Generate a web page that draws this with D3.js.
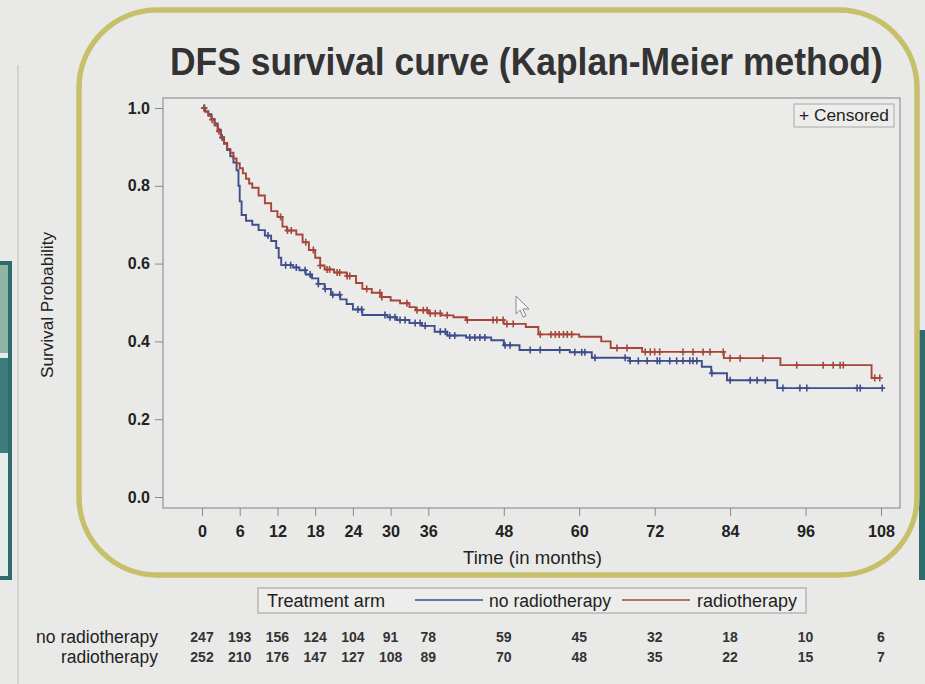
<!DOCTYPE html>
<html>
<head>
<meta charset="utf-8">
<script src="https://cdn.jsdelivr.net/npm/d3@7"></script>
<style>
  html, body { margin: 0; padding: 0; background: #e9eae8; }
  svg { display: block; font-family: "Liberation Sans", Arial, sans-serif; }
</style>
</head>
<body>
<svg id="chart" width="925" height="684"></svg>
<script>
// ---- data ----
const tickMonths = [0, 6, 12, 18, 24, 30, 36, 48, 60, 72, 84, 96, 108];
const probTicks = [0, 0.2, 0.4, 0.6, 0.8, 1.0];
const groups = ["no radiotherapy", "radiotherapy"];
const atRiskNoRT = [247, 193, 156, 124, 104, 91, 78, 59, 45, 32, 18, 10, 6];
const atRiskRT = [252, 210, 176, 147, 127, 108, 89, 70, 48, 35, 22, 15, 7];

// Kaplan-Meier steps: [month, survival after the event]
const stepsNoRT = [
  [0, 1.0], [0.5, 0.992], [1, 0.984], [1.5, 0.972], [2, 0.96], [2.5, 0.944],
  [3, 0.924], [3.5, 0.908], [4, 0.892], [4.5, 0.876], [5, 0.86], [5.5, 0.84],
  [5.8, 0.80], [6.0, 0.76], [6.3, 0.725], [7, 0.71], [8, 0.70], [9, 0.686],
  [10, 0.672], [11, 0.658], [11.8, 0.64], [12.2, 0.615], [12.6, 0.596],
  [14.5, 0.59], [15.5, 0.583], [16.5, 0.572], [17.5, 0.562], [18.5, 0.548],
  [19.5, 0.535], [20.5, 0.52], [22, 0.508], [23, 0.496], [24, 0.482],
  [25.5, 0.468], [29.5, 0.462], [31, 0.455], [33, 0.447], [35, 0.44],
  [37, 0.425], [39, 0.415], [42, 0.41], [46, 0.403], [48, 0.39], [50.5, 0.378],
  [58.5, 0.372], [62, 0.358], [68, 0.35], [79.5, 0.335], [81, 0.318],
  [83.5, 0.30], [91.5, 0.28]
];
const stepsRT = [
  [0, 1.0], [0.5, 0.99], [1, 0.98], [1.5, 0.97], [2, 0.955], [2.5, 0.94],
  [3, 0.925], [3.5, 0.91], [4, 0.895], [4.5, 0.885], [5, 0.87], [5.5, 0.858],
  [6, 0.845], [6.5, 0.832], [7, 0.818], [7.5, 0.806], [8, 0.795], [9, 0.775],
  [10, 0.755], [11, 0.735], [12, 0.72], [12.8, 0.695], [13.5, 0.685],
  [15, 0.675], [16, 0.655], [17, 0.635], [18, 0.615], [18.8, 0.595],
  [19.5, 0.585], [21, 0.577], [23, 0.568], [24.5, 0.55], [25.5, 0.535],
  [27, 0.525], [28.5, 0.514], [30, 0.505], [31.5, 0.498], [33, 0.488],
  [34, 0.48], [36, 0.472], [38, 0.467], [40, 0.462], [42, 0.455], [48, 0.445],
  [51.5, 0.437], [53.5, 0.418], [60, 0.412], [63.5, 0.40], [65, 0.383],
  [70, 0.373], [83, 0.357], [92, 0.339], [106.5, 0.306]
];

// censoring times (months)
const censorNoRT = [
  0.4, 3.2, 10.5, 13.3, 14.1, 15.0, 16.4, 17.2, 18.5, 19.6, 20.8, 21.9, 24.8,
  25.4, 29.1, 29.9, 30.7, 31.5, 32.3, 33.9, 34.7, 35.5, 37.9, 38.7, 39.4, 40.2,
  42.6, 43.4, 44.2, 45.0, 48.2, 49.0, 52.2, 53.8, 56.9, 59.3, 60.4, 60.9, 62.5,
  67.3, 68.1, 69.4, 70.8, 72.4, 72.8, 74.4, 75.5, 76.5, 77.6, 78.1, 78.7, 81.1,
  84.0, 87.2, 88.3, 89.6, 92.4, 95.1, 96.2, 104.2, 104.7, 108.2
];
const censorRT = [
  0.3, 1.6, 2.7, 12.5, 13.6, 14.2, 16.5, 17.7, 18.8, 19.9, 20.3, 21.5, 21.9,
  23.1, 23.5, 26.2, 28.3, 28.6, 32.6, 34.2, 35.2, 35.8, 36.3, 37.1, 37.9, 39.0,
  42.2, 46.3, 46.9, 47.9, 48.5, 49.5, 53.8, 55.5, 56.2, 56.8, 57.5, 58.1, 58.8,
  66.0, 67.6, 70.5, 71.3, 72.0, 72.8, 76.5, 78.1, 79.7, 80.8, 82.9, 84.0, 85.6,
  89.2, 94.6, 98.8, 100.4, 101.5, 102.0, 107.0, 107.8
];

const colorNoRT = "#3f4d8a";
const colorRT = "#a6463a";

// ---- layout ----
const svg = d3.select("#chart");
const frame = { left: 163, top: 98, right: 900, bottom: 508 };
const x = d3.scaleLinear().domain([0, 108]).range([202, 881]);
const y = d3.scaleLinear().domain([0, 1]).range([497, 108]);

// squeeze a label to a given width (narrow lettering)
function fit(sel, w) {
  return sel.attr("textLength", w).attr("lengthAdjust", "spacingAndGlyphs");
}

// page background pieces
svg.append("rect").attr("width", 925).attr("height", 684).attr("fill", "#e9eae8");
svg.append("line").attr("x1", 18).attr("x2", 18).attr("y1", 65).attr("y2", 684)
  .attr("stroke", "#c6c7c5").attr("stroke-width", 1.2);
// side panels of the slide
const leftPanel = svg.append("g");
leftPanel.append("rect").attr("x", -6).attr("y", 263).attr("width", 16).attr("height", 315)
  .attr("fill", "#e6ecea").attr("stroke", "#2f6b6d").attr("stroke-width", 4);
leftPanel.append("rect").attr("x", -6).attr("y", 265).attr("width", 14).attr("height", 88)
  .attr("fill", "#8fb4a4");
leftPanel.append("rect").attr("x", -6).attr("y", 358).attr("width", 14).attr("height", 95)
  .attr("fill", "#3e7b7c");
svg.append("rect").attr("x", 919).attr("y", 330).attr("width", 10).attr("height", 250)
  .attr("fill", "#2f6a6c");

// rounded highlight border
svg.append("rect").attr("x", 79).attr("y", 10).attr("width", 838).attr("height", 565)
  .attr("rx", 78).attr("ry", 78)
  .attr("fill", "none").attr("stroke", "#c6c06a").attr("stroke-width", 5.5);

// title: sized to its natural width, stretched a little vertically
const title = svg.append("text").attr("font-size", 36).attr("font-weight", "bold")
  .attr("fill", "#333").text("DFS survival curve (Kaplan-Meier method)");
const titleW = title.node().getComputedTextLength();
title.attr("font-size", 36 * 713 / titleW)
  .attr("transform", "translate(170,75) scale(1,1.08)");

// plot frame
svg.append("rect").attr("x", frame.left).attr("y", frame.top)
  .attr("width", frame.right - frame.left).attr("height", frame.bottom - frame.top)
  .attr("fill", "#ebecea").attr("stroke", "#9a9a9a").attr("stroke-width", 1.3);

// axes
const yAxis = svg.append("g").attr("transform", `translate(${frame.left},0)`)
  .call(d3.axisLeft(y).tickValues(probTicks).tickFormat(d3.format(".1f")).tickSize(8).tickPadding(5));
yAxis.select(".domain").remove();
yAxis.selectAll("line").attr("stroke", "#888");
yAxis.selectAll("text").attr("font-size", 16).attr("font-weight", "bold")
  .attr("fill", "#222").attr("font-family", "Liberation Sans, Arial, sans-serif");

const xAxis = svg.append("g").attr("transform", `translate(0,${frame.bottom})`)
  .call(d3.axisBottom(x).tickValues(tickMonths).tickSize(8));
xAxis.select(".domain").remove();
xAxis.selectAll("line").attr("stroke", "#888");
xAxis.selectAll("text").attr("y", 28.5).attr("dy", 0)
  .attr("font-size", 17).attr("font-weight", "bold")
  .attr("fill", "#222").attr("font-family", "Liberation Sans, Arial, sans-serif")
  .each(function () {
    const w = this.getComputedTextLength();
    fit(d3.select(this), (w * 0.95).toFixed(1));
  });

fit(svg.append("text").attr("x", 463).attr("y", 564)
  .attr("font-size", 18).attr("fill", "#222")
  .text("Time (in months)"), 139);
fit(svg.append("text")
  .attr("transform", "translate(53,378) rotate(-90)")
  .attr("font-size", 17).attr("fill", "#222")
  .text("Survival Probability"), 146);

// censored legend
svg.append("rect").attr("x", 794).attr("y", 104).attr("width", 100).attr("height", 23)
  .attr("fill", "#ededeb").attr("stroke", "#a8a8a8").attr("stroke-width", 1);
fit(svg.append("text").attr("x", 799).attr("y", 121)
  .attr("font-size", 16).attr("fill", "#222").text("+ Censored"), 90);

// ---- curves ----
function survivalAt(steps, t) {
  let s = steps[0][1];
  for (const [st, sv] of steps) { if (st <= t) s = sv; else break; }
  return s;
}
const line = d3.line().x(d => x(d[0])).y(d => y(d[1])).curve(d3.curveStepAfter);

function drawArm(steps, censors, color) {
  const endT = d3.max(censors);
  const pts = steps.concat([[endT, steps[steps.length - 1][1]]]);
  const g = svg.append("g");
  g.append("path").datum(pts).attr("d", line)
    .attr("fill", "none").attr("stroke", color).attr("stroke-width", 1.9);
  const marks = g.selectAll("g.cens").data(censors).join("g")
    .attr("transform", t => `translate(${x(t)},${y(survivalAt(steps, t))})`);
  marks.append("line").attr("y1", -3.5).attr("y2", 3.5)
    .attr("stroke", color).attr("stroke-width", 1.6);
  marks.append("line").attr("x1", -3).attr("x2", 3)
    .attr("stroke", color).attr("stroke-width", 1.6);
}
drawArm(stepsNoRT, censorNoRT, colorNoRT);
drawArm(stepsRT, censorRT, colorRT);

// pointer arrow resting on the plot
svg.append("path")
  .attr("d", "M516,296 L516,314 L520,310 L523,317 L526,316 L523,309 L529,309 Z")
  .attr("fill", "#f4f4f4").attr("stroke", "#8a8a8a").attr("stroke-width", 1);

// ---- legend below ----
svg.append("rect").attr("x", 258).attr("y", 588).attr("width", 548).attr("height", 25)
  .attr("fill", "#ededeb").attr("stroke", "#a8a8a8").attr("stroke-width", 1.2);
fit(svg.append("text").attr("x", 267).attr("y", 607)
  .attr("font-size", 18).attr("fill", "#222").text("Treatment arm"), 118);
const legendItems = [
  { label: groups[0], color: colorNoRT, x1: 415, x2: 483, tx: 489, w: 122 },
  { label: groups[1], color: colorRT, x1: 622, x2: 690, tx: 697, w: 100 }
];
legendItems.forEach(d => {
  svg.append("line").attr("x1", d.x1).attr("x2", d.x2).attr("y1", 600).attr("y2", 600)
    .attr("stroke", d.color).attr("stroke-width", 1.5);
  fit(svg.append("text").attr("x", d.tx).attr("y", 607)
    .attr("font-size", 18).attr("fill", "#222").text(d.label), d.w);
});

// ---- numbers at risk ----
const riskRows = [
  { label: groups[0], values: atRiskNoRT, yy: 643, w: 122 },
  { label: groups[1], values: atRiskRT, yy: 663, w: 97 }
];
riskRows.forEach(r => {
  fit(svg.append("text").attr("x", 158 - r.w).attr("y", r.yy)
    .attr("font-size", 18).attr("fill", "#222").text(r.label), r.w);
  svg.append("g").selectAll("text").data(r.values).join("text")
    .attr("x", (v, i) => x(tickMonths[i])).attr("y", r.yy - 1)
    .attr("text-anchor", "middle").attr("font-size", 14).attr("font-weight", "bold")
    .attr("fill", "#333").text(v => v);
});
</script>
</body>
</html>
